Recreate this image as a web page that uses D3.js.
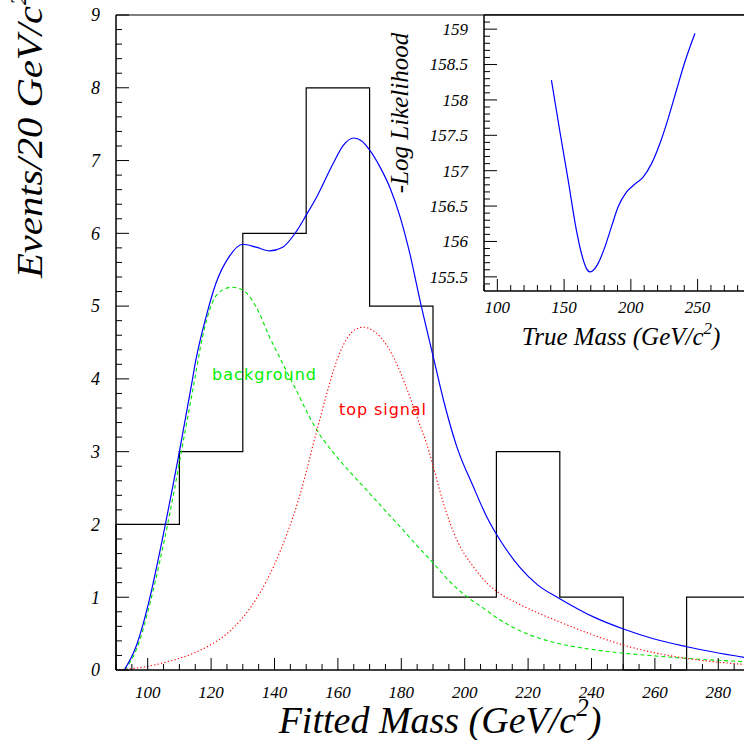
<!DOCTYPE html>
<html><head><meta charset="utf-8">
<script src="https://cdn.jsdelivr.net/npm/d3@7"></script>
<style>body{margin:0;background:#fff}svg{display:block}
.sf{font-family:"Liberation Serif","Times New Roman",Times,serif;font-style:italic}
.ss{font-family:"DejaVu Sans",sans-serif}
</style>
</head><body>
<svg id="chart" width="744" height="740"></svg>
<script>
// ---- data ----
const binEdges = [90,110,130,150,170,190,210,230,250,270,290];
const binCounts = [2,3,6,8,5,1,3,1,0,1];

const totalMass = [92.6,96.3,100.5,103.7,107.9,110,113.7,115.2,118.4,121.5,125.7,130,134.2,138.4,142.6,146.8,150,153.3,158.5,161.7,165,167.5,170.1,173.3,176.4,179.6,182.7,185.9,190.1,193.3,197.5,202.7,206.9,211.1,217.4,223,230,240.6,250.3,259.5,270,290];
const totalFit  = [0,0.32,0.96,1.60,2.52,3.0,3.89,4.26,4.85,5.31,5.68,5.85,5.81,5.76,5.81,6.02,6.25,6.5,6.96,7.21,7.31,7.27,7.14,6.91,6.63,6.23,5.72,5.08,4.30,3.71,3.07,2.52,2.11,1.79,1.41,1.17,0.98,0.73,0.56,0.43,0.32,0.16];

const bkgMass = [92.8,96.6,100.8,104.1,108.3,110.4,114.4,117.3,120.5,123.5,126.5,130,134.2,138.4,142.6,146.8,151,153.3,158.5,163.8,169.1,174.3,179.6,184.9,190.1,195.4,200.6,205.9,211.1,217.4,224,230,240.6,250.3,259.5,270,290];
const bkgFit  = [0,0.3,0.93,1.55,2.45,2.95,3.89,4.58,5.06,5.22,5.26,5.22,4.99,4.58,4.21,3.85,3.48,3.30,2.99,2.72,2.47,2.22,1.97,1.71,1.47,1.21,1.01,0.85,0.69,0.54,0.43,0.36,0.28,0.23,0.195,0.16,0.11];

const sigMass = [90,95,100,105,110,115,120,125,130,135,140,144,147.3,150,152.2,154.4,156.5,158.5,160.5,162.8,165.5,168,170.5,173.3,176,178.5,181,183.8,186,188,190.1,193.3,197.5,202.7,206.9,211.1,217.4,230,240.6,250.3,259.5,270,290];
const sigFit  = [0,0.02,0.05,0.1,0.16,0.24,0.35,0.5,0.72,1.03,1.45,1.88,2.3,2.72,3.1,3.46,3.8,4.1,4.35,4.55,4.68,4.71,4.68,4.58,4.42,4.21,3.95,3.62,3.35,3.11,2.79,2.29,1.79,1.42,1.20,1.05,0.90,0.66,0.48,0.34,0.24,0.16,0.07];

const llMass = [140.5,146.7,153.0,159.2,163.0,166.7,169.2,171.7,175.5,180.5,185.5,190.5,196.8,203.0,209.2,215.5,221.7,228.0,234.2,240.5,248.0];
const llValue = [158.28,157.57,156.87,156.16,155.83,155.62,155.57,155.59,155.69,155.92,156.21,156.49,156.70,156.81,156.91,157.10,157.38,157.74,158.14,158.54,158.94];

const mainXTicks = [100,120,140,160,180,200,220,240,260,280];
const mainYTicks = [0,1,2,3,4,5,6,7,8,9];
const insetXTicks = [100,150,200,250];
const insetYTicks = [155.5,156,156.5,157,157.5,158,158.5,159];

// ---- layout ----
const svg = d3.select("#chart");
const x = d3.scaleLinear().domain([90,290]).range([116,750]);
const y = d3.scaleLinear().domain([0,9]).range([670,15]);

// histogram
const histPts = [[binEdges[0],0]];
binCounts.forEach((c,i)=>{histPts.push([binEdges[i],c]);histPts.push([binEdges[i+1],c]);});
histPts.push([binEdges[binEdges.length-1],0]);
svg.append("path").attr("d", d3.line().x(d=>x(d[0])).y(d=>y(d[1]))(histPts))
  .attr("fill","none").attr("stroke","#000").attr("stroke-width",1.2);

const curve = (xs,ys)=>d3.line().curve(d3.curveMonotoneX).x((d,i)=>x(xs[i])).y((d,i)=>y(ys[i]))(xs);
svg.append("path").attr("d",curve(bkgMass,bkgFit)).attr("fill","none").attr("stroke","#00e600")
  .attr("stroke-width",1.1).attr("stroke-dasharray","4,3");
svg.append("path").attr("d",curve(sigMass,sigFit)).attr("fill","none").attr("stroke","#ff0000")
  .attr("stroke-width",1.1).attr("stroke-dasharray","1.3,2.2");
svg.append("path").attr("d",curve(totalMass,totalFit)).attr("fill","none").attr("stroke","#0000ff")
  .attr("stroke-width",1.2);

// labels
svg.append("text").attr("class","ss").attr("x",212).attr("y",380).attr("fill","#00ee00")
  .attr("font-size",16).attr("textLength",104).text("background");
svg.append("text").attr("class","ss").attr("x",339).attr("y",415).attr("fill","#ff0000")
  .attr("font-size",16).attr("textLength",87).text("top signal");

// main axes
const ax = svg.append("g");
ax.append("line").attr("x1",116).attr("x2",116).attr("y1",15).attr("y2",670).attr("stroke","#000").attr("stroke-width",1.5);
ax.append("line").attr("x1",116).attr("x2",750).attr("y1",670).attr("y2",670).attr("stroke","#000").attr("stroke-width",1.5);
ax.append("line").attr("x1",116).attr("x2",750).attr("y1",15).attr("y2",15).attr("stroke","#000").attr("stroke-width",1.2);
d3.range(0,9.001,0.2).forEach(v=>{
  const major = Math.abs(v-Math.round(v))<1e-6;
  ax.append("line").attr("x1",116).attr("x2",116+(major?13:6)).attr("y1",y(v)).attr("y2",y(v)).attr("stroke","#000").attr("stroke-width",1);
});
d3.range(90,290.001,5).forEach(v=>{
  const major = (v%20)===0;
  ax.append("line").attr("x1",x(v)).attr("x2",x(v)).attr("y1",670).attr("y2",670-(major?12:6)).attr("stroke","#000").attr("stroke-width",1);
});
mainYTicks.forEach(v=>{
  ax.append("text").attr("class","sf").attr("x",100).attr("y",y(v)).attr("dy","0.35em").attr("text-anchor","end")
    .attr("font-size",18).text(v);
});
mainXTicks.forEach(v=>{
  ax.append("text").attr("class","sf").attr("x",x(v)).attr("y",698).attr("text-anchor","middle")
    .attr("font-size",17).text(v);
});
const xt = ax.append("text").attr("class","sf").attr("x",440).attr("y",733).attr("text-anchor","middle")
  .attr("font-size",38);
xt.append("tspan").text("Fitted Mass (GeV/c");
xt.append("tspan").attr("dy",-17).attr("font-size",25).text("2");
xt.append("tspan").attr("dy",17).text(")");
const ytg = ax.append("g").attr("transform","translate(42,278) rotate(-90)");
ytg.append("text").attr("class","sf").attr("x",0).attr("y",0).attr("font-size",35)
  .attr("textLength",272).attr("lengthAdjust","spacingAndGlyphs").text("Events/20 GeV/c");
ytg.append("text").attr("class","sf").attr("x",273).attr("y",-16).attr("font-size",23).text("2");

// ---- inset ----
const ix = d3.scaleLinear().domain([90,290]).range([484,751]);
const iy = d3.scaleLinear().domain([155.3,159.2]).range([291,15]);
const ins = svg.append("g");
ins.append("rect").attr("x",484).attr("y",15).attr("width",270).attr("height",276).attr("fill","#fff");
ins.append("line").attr("x1",484).attr("x2",484).attr("y1",15).attr("y2",291).attr("stroke","#000").attr("stroke-width",1.5);
ins.append("line").attr("x1",484).attr("x2",751).attr("y1",291).attr("y2",291).attr("stroke","#000").attr("stroke-width",1.5);
ins.append("line").attr("x1",484).attr("x2",751).attr("y1",15).attr("y2",15).attr("stroke","#000").attr("stroke-width",1.5);
d3.range(155.4,159.2,0.1).forEach(v=>{
  const major = Math.abs(v*2-Math.round(v*2))<1e-6;
  ins.append("line").attr("x1",484).attr("x2",484+(major?13:6)).attr("y1",iy(v)).attr("y2",iy(v)).attr("stroke","#000").attr("stroke-width",1);
});
d3.range(90,290.001,10).forEach(v=>{
  const major = (v%50)===0;
  ins.append("line").attr("x1",ix(v)).attr("x2",ix(v)).attr("y1",291).attr("y2",291-(major?12:6)).attr("stroke","#000").attr("stroke-width",1);
});
insetYTicks.forEach(v=>{
  ins.append("text").attr("class","sf").attr("x",468).attr("y",iy(v)).attr("dy","0.35em").attr("text-anchor","end")
    .attr("font-size",17).text(v);
});
insetXTicks.forEach(v=>{
  ins.append("text").attr("class","sf").attr("x",ix(v)).attr("y",313).attr("text-anchor","middle")
    .attr("font-size",17).text(v);
});
ins.append("path").attr("d",d3.line().curve(d3.curveMonotoneX).x((d,i)=>ix(llMass[i])).y((d,i)=>iy(llValue[i]))(llMass))
  .attr("fill","none").attr("stroke","#0000ff").attr("stroke-width",1.2);
const it = ins.append("text").attr("class","sf").attr("x",621).attr("y",345).attr("text-anchor","middle")
  .attr("font-size",25);
it.append("tspan").text("True Mass (GeV/c");
it.append("tspan").attr("dy",-11).attr("font-size",17).text("2");
it.append("tspan").attr("dy",11).text(")");
ins.append("text").attr("class","sf").attr("transform","translate(408,113) rotate(-90)").attr("text-anchor","middle")
  .attr("font-size",25).text("-Log Likelihood");
</script>
</body></html>
